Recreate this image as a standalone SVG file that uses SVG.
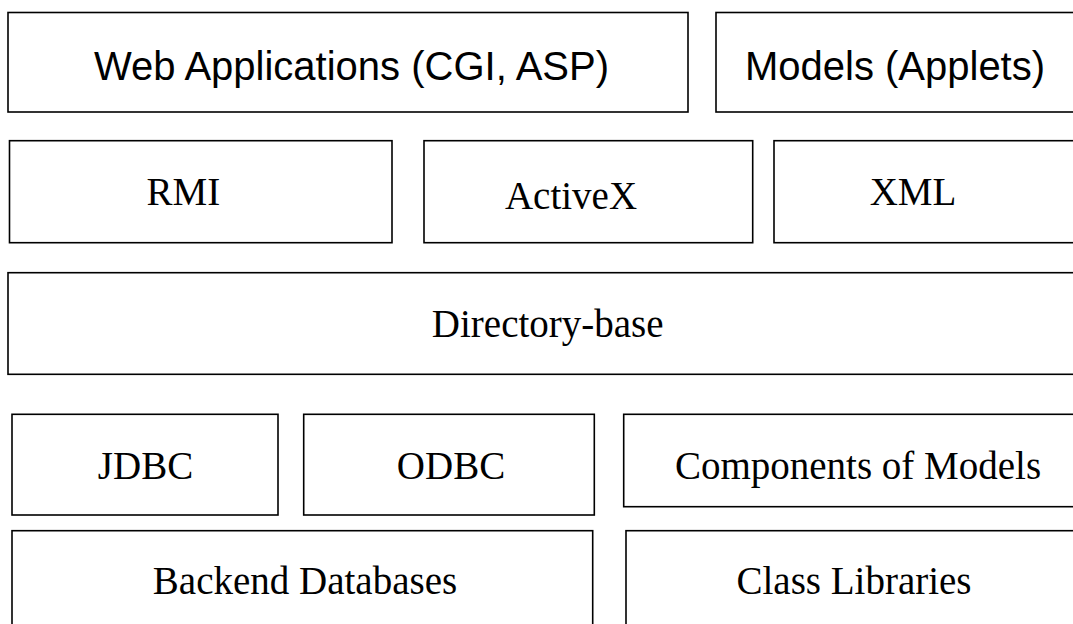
<svg xmlns="http://www.w3.org/2000/svg" width="1073" height="624" viewBox="0 0 1073 624">
  <style>
    .box { fill: #ffffff; stroke: #000000; stroke-width: 1.6; }
    .sans { font-family: "Liberation Sans", Arial, sans-serif; font-size: 40px; fill: #000000; text-anchor: middle; }
    .serif { font-family: "Liberation Serif", "Times New Roman", serif; font-size: 39px; fill: #000000; text-anchor: middle; }
  </style>
  <rect width="1073" height="624" fill="#ffffff"/>

  <!-- top layer: applications -->
  <g id="web-applications">
    <rect class="box" x="8" y="12.5" width="680" height="99.5"/>
    <text class="sans" x="351.5" y="80">Web Applications (CGI, ASP)</text>
  </g>
  <g id="models-applets">
    <rect class="box" x="716" y="12.5" width="360" height="99.5"/>
    <text class="sans" x="895" y="80">Models (Applets)</text>
  </g>

  <!-- middleware layer -->
  <g id="rmi">
    <rect class="box" x="9.5" y="140.7" width="382.5" height="102"/>
    <text class="serif" x="183.3" y="205">RMI</text>
  </g>
  <g id="activex">
    <rect class="box" x="424" y="140.7" width="328.7" height="102"/>
    <text class="serif" x="571" y="208.5">ActiveX</text>
  </g>
  <g id="xml">
    <rect class="box" x="774" y="140.7" width="302" height="102"/>
    <text class="serif" x="913" y="205">XML</text>
  </g>

  <!-- directory layer -->
  <g id="directory-base">
    <rect class="box" x="8" y="272.7" width="1068" height="101.6"/>
    <text class="serif" x="547.7" y="336.7">Directory-base</text>
  </g>

  <!-- data access layer -->
  <g id="jdbc">
    <rect class="box" x="12" y="414.3" width="266" height="100.7"/>
    <text class="serif" x="145.5" y="479">JDBC</text>
  </g>
  <g id="odbc">
    <rect class="box" x="303.7" y="414.3" width="290.6" height="100.7"/>
    <text class="serif" x="451" y="479">ODBC</text>
  </g>
  <g id="components-of-models">
    <rect class="box" x="623.7" y="414.3" width="452" height="92.4"/>
    <text class="serif" x="858" y="479">Components of Models</text>
  </g>

  <!-- storage layer -->
  <g id="backend-databases">
    <rect class="box" x="12" y="530.7" width="580.7" height="100"/>
    <text class="serif" x="305" y="594">Backend Databases</text>
  </g>
  <g id="class-libraries">
    <rect class="box" x="626" y="530.7" width="450" height="100"/>
    <text class="serif" x="854" y="594">Class Libraries</text>
  </g>

  <!-- the layers are stacked without connectors -->
  <g id="connectors"/>
</svg>
